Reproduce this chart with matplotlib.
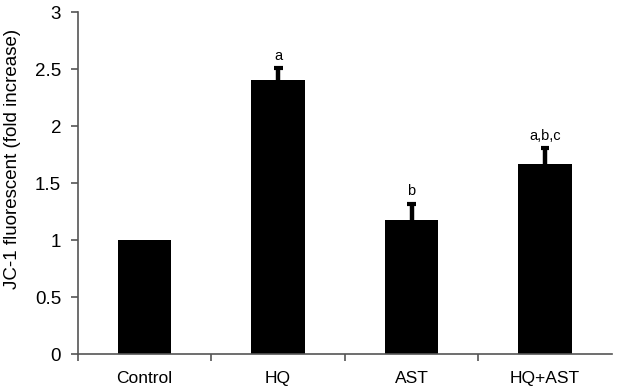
import numpy as np
import matplotlib
matplotlib.use('Agg')
import matplotlib.pyplot as plt

plt.rcParams['font.family'] = ['Liberation Sans', 'DejaVu Sans']

groups = ["Control", "HQ", "AST", "HQ+AST"]
values = [1.0, 2.40, 1.18, 1.67]
errors = [0.0, 0.11, 0.14, 0.14]
letters = ["", "a", "b", "a,b,c"]

fig = plt.figure(figsize=(6.18, 3.9), dpi=100)
ax = fig.add_axes([0.126, 0.092, 0.864, 0.877])

x = np.arange(len(groups))
ax.bar(x, values, width=0.4, color='black')

# upper error bars only (no lower cap)
tops = np.array(values) + np.array(errors)
ax.vlines(x[1:], values[1:], tops[1:], color='black', linewidth=3.2)
ax.errorbar(x[1:], tops[1:], xerr=0.033, fmt='none', ecolor='black',
            elinewidth=3, capsize=0)

for xi, top, t in zip(x, tops, letters):
    if t:
        ax.text(xi, top + 0.045, t, ha='center', va='bottom', fontsize=10.5)

ax.set_xlim(-0.5, 3.5)
ax.set_ylim(0, 3)
ax.set_yticks(np.arange(0, 3.01, 0.5))
ax.set_yticklabels(["0", "0.5", "1", "1.5", "2", "2.5", "3"])
ax.set_xticks(x)
ax.set_xticklabels(groups)
ax.set_xticks(np.arange(-0.5, 3.6, 1.0)[:-1], minor=True)
ax.tick_params(axis='x', which='major', length=0, pad=12, labelsize=12.5)
ax.tick_params(axis='x', which='minor', length=5, width=1.2, color='#555555')
ax.tick_params(axis='y', length=5, width=1.2, color='#555555', labelsize=13.5, pad=7)
ax.set_ylabel("JC-1 fluorescent (fold increase)", fontsize=13.5, va='center')
ax.yaxis.set_label_coords(-0.122, 0.57)

for s in ['top', 'right']:
    ax.spines[s].set_visible(False)
for s in ['left', 'bottom']:
    ax.spines[s].set_linewidth(1.2)
    ax.spines[s].set_color('#555555')

fig.savefig('out.png', dpi=100)
